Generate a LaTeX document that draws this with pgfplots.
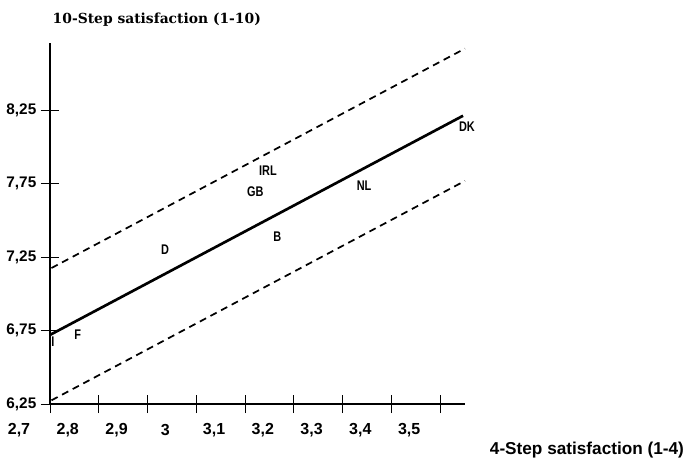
\documentclass[border=0pt]{standalone}
\usepackage{fontspec}
\setmainfont{Liberation Sans}
\newfontfamily\titlefont{DejaVu Serif}
\newfontfamily\narrowfont[FakeStretch=0.78]{Liberation Sans}
\usepackage{pgfplots}
\pgfplotsset{compat=1.18}

% country positions: 4-step vs 10-step satisfaction
\pgfplotstableread{
x      y      label
2.706  6.672  I
2.757  6.719  F
2.936  7.298  D
3.121  7.692  GB
3.147  7.835  IRL
3.166  7.386  B
3.344  7.733  NL
3.555  8.134  DK
}\countries

\begin{document}
\begin{tikzpicture}
\useasboundingbox (-37.5pt,-44.25pt) rectangle (481.5pt,303pt);
\begin{axis}[
  at={(0,0)}, anchor=south west,
  scale only axis, width=311.25pt, height=270.75pt,
  xmin=2.7, xmax=3.551, ymin=6.25, ymax=8.706,
  clip=false,
  axis x line=bottom, axis y line=left,
  axis line style={-, line width=0.9pt},
  xtick={2.7,2.8,2.9,3,3.1,3.2,3.3,3.4,3.5},
  ytick={6.25,6.75,7.25,7.75,8.25},
  tick align=center, major tick length=13.5pt,
  tick style={black, line width=0.6pt},
  xticklabel style={font=\bfseries\fontsize{12}{12}\selectfont, anchor=center, xshift=-23.25pt, yshift=-13pt},
  yticklabel style={font=\bfseries\fontsize{11.5}{11.5}\selectfont, anchor=east},
  /pgf/number format/.cd, use comma, fixed, precision=2, assume math mode=true,
]
\addplot[black, line width=2pt] coordinates {(2.7,6.72) (3.547,8.211)};
\addplot[black, line width=1.3pt, dash pattern=on 5.25pt off 3.75pt] coordinates {(2.703,7.175) (3.551,8.668)};
\addplot[black, line width=1.3pt, dash pattern=on 5.25pt off 3.75pt] coordinates {(2.703,6.275) (3.551,7.768)};
\addplot[draw=none, mark=none, nodes near coords, point meta=explicit symbolic,
  nodes near coords align={center},
  every node near coord/.style={font=\narrowfont\bfseries\fontsize{10.5}{10.5}\selectfont, inner sep=0pt, anchor=center}]
  table[x=x, y=y, meta=label] {\countries};
\end{axis}
\node[anchor=west, font=\titlefont\bfseries\fontsize{10.4}{10.4}\selectfont] at (-1.5pt,288pt) {10-Step satisfaction (1-10)};
\node[anchor=east, font=\bfseries\fontsize{12.9}{12.9}\selectfont] at (479pt,-34.5pt) {4-Step satisfaction (1-4)};
\end{tikzpicture}
\end{document}
